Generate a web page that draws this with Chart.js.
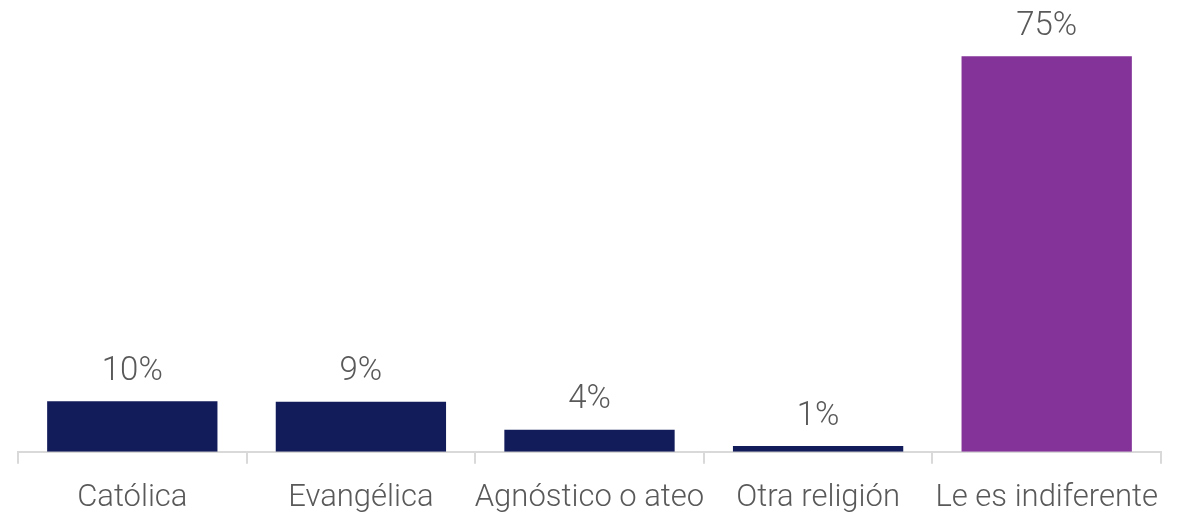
<!DOCTYPE html>
<html>
<head>
<meta charset="utf-8">
<script src="https://cdn.jsdelivr.net/npm/chart.js@4"></script>
<style>
  html, body { margin: 0; padding: 0; background: #fff; }
  #wrap { width: 1194px; height: 514px; }
</style>
</head>
<body>
<div id="wrap"><canvas id="chart" width="1194" height="514"></canvas></div>
<script>
const categories = ['Católica', 'Evangélica', 'Agnóstico o ateo', 'Otra religión', 'Le es indiferente'];
const values = [9.6, 9.5, 4.2, 1.1, 75];
const valueLabels = ['10%', '9%', '4%', '1%', '75%'];
const barColors = ['#131c5a', '#131c5a', '#131c5a', '#131c5a', '#843399'];

const textColor = '#595959';
const fontFamily = 'Roboto, "Liberation Sans", sans-serif';

// draws the percentage above every bar
const valueLabelPlugin = {
    id: 'valueLabels',
    afterDatasetsDraw(chart) {
        const c = chart.ctx;
        const meta = chart.getDatasetMeta(0);
        c.save();
        c.fillStyle = textColor;
        c.font = '300 33px ' + fontFamily;
        c.textAlign = 'center';
        c.textBaseline = 'bottom';
        meta.data.forEach((bar, i) => {
            c.fillText(valueLabels[i], bar.x, bar.y - 13);
        });
        c.restore();
    }
};

const ctx = document.getElementById('chart').getContext('2d');

new Chart(ctx, {
    type: 'bar',
    data: {
        labels: categories,
        datasets: [{
            data: values,
            backgroundColor: barColors,
            categoryPercentage: 0.745,
            barPercentage: 1
        }]
    },
    options: {
        responsive: false,
        animation: false,
        layout: { padding: { left: 18, right: 33, top: 30, bottom: -19 } },
        scales: {
            x: {
                grid: {
                    display: true,
                    drawOnChartArea: false,
                    drawTicks: true,
                    tickLength: 12,
                    color: '#d9d9d9',
                    lineWidth: 2
                },
                border: { color: '#d9d9d9', width: 2 },
                ticks: {
                    color: textColor,
                    font: { family: fontFamily, size: 31, weight: 300 },
                    maxRotation: 0,
                    minRotation: 0,
                    autoSkip: false,
                    padding: 16
                }
            },
            y: {
                display: false,
                min: 0,
                max: 80
            }
        },
        plugins: {
            legend: { display: false },
            tooltip: { enabled: false }
        }
    },
    plugins: [valueLabelPlugin]
});
</script>
</body>
</html>
